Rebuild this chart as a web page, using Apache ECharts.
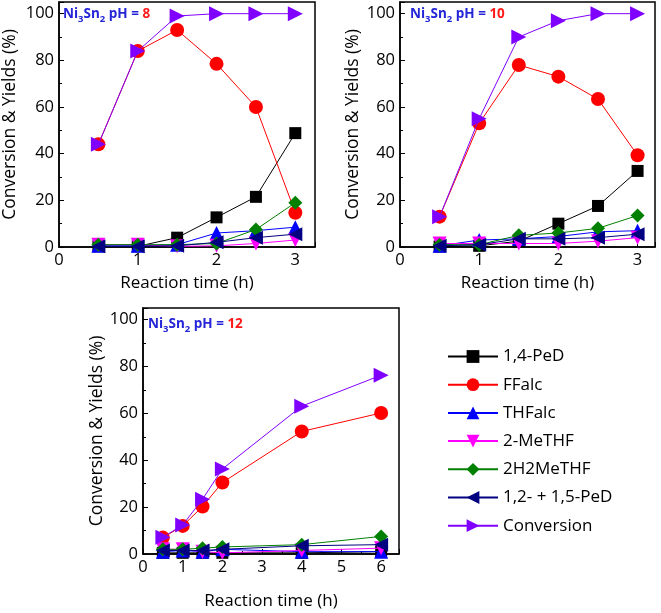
<!DOCTYPE html>
<html>
<head>
<meta charset="utf-8">
<script src="https://cdn.jsdelivr.net/npm/echarts@6/dist/echarts.min.js"></script>
<style>
html, body { margin: 0; padding: 0; background: #fff; }
#chart { width: 661px; height: 613px; }
</style>
</head>
<body>
<div id="chart"></div>
<script>
// reaction time (h)
var time_short = [0.5, 1, 1.5, 2, 2.5, 3];
var time_long = [0.5, 1, 1.5, 2, 4, 6];
var series_names = ['1,4-PeD', 'FFalc', 'THFalc', '2-MeTHF', '2H2MeTHF', '1,2- + 1,5-PeD', 'Conversion'];
var y_ticks = [0, 20, 40, 60, 80, 100];

// pH = 8
var ped14_ph8 = [0.3, 0.3, 4, 12.7, 21.5, 48.8];
var ffalc_ph8 = [44, 84, 93, 78.5, 60, 14.7];
var thfalc_ph8 = [0.5, 0.5, 1, 6, 7, 8.5];
var methf_ph8 = [1, 1, 0.3, 0.5, 1.5, 3];
var h2methf_ph8 = [1, 1, 1, 1.5, 7.5, 19];
var ped1215_ph8 = [0.3, 0.3, 0.5, 2, 4, 5.5];
var conv_ph8 = [44, 84, 99, 100, 100, 100];

// pH = 10
var ped14_ph10 = [0.2, 0.5, 2.5, 10, 17.6, 32.6];
var ffalc_ph10 = [13, 53, 78, 73, 63.4, 39.3];
var thfalc_ph10 = [0.5, 3, 3.5, 4.5, 6.5, 7];
var methf_ph10 = [1.5, 1.5, 1.5, 1.5, 2.5, 4];
var h2methf_ph10 = [1, 1, 5, 6, 8, 13.5];
var ped1215_ph10 = [0.5, 1, 3.5, 3.5, 4, 5.5];
var conv_ph10 = [13, 55, 90, 97, 100, 100];

// pH = 12
var ped14_ph12 = [0.5, 0.5, 0.5, 0.5, 0.5, 1];
var ffalc_ph12 = [7, 12, 20.3, 30.5, 52.3, 60.2];
var thfalc_ph12 = [1, 1.5, 1, 2, 1, 1];
var methf_ph12 = [2, 2, 1, 0.5, 1.5, 2.5];
var h2methf_ph12 = [2, 2, 2.5, 3, 4, 7.5];
var ped1215_ph12 = [1.5, 1.5, 1.5, 2, 3.5, 4];
var conv_ph12 = [7.1, 12.4, 23.4, 36.3, 63.1, 76.3];

var panels = [
    {x: time_short, ys: [ped14_ph8, ffalc_ph8, thfalc_ph8, methf_ph8, h2methf_ph8, ped1215_ph8, conv_ph8], ph: '8',
     grid: {left: 58, top: 2, width: 257, height: 245}, xmax: 3.25, nameGapX: 28, nameGapY: 40, tag: [63, 17]},
    {x: time_short, ys: [ped14_ph10, ffalc_ph10, thfalc_ph10, methf_ph10, h2methf_ph10, ped1215_ph10, conv_ph10], ph: '10',
     grid: {left: 400, top: 2, width: 255, height: 245}, xmax: 3.22, nameGapX: 28, nameGapY: 38, tag: [410, 17]},
    {x: time_long, ys: [ped14_ph12, ffalc_ph12, thfalc_ph12, methf_ph12, h2methf_ph12, ped1215_ph12, conv_ph12], ph: '12',
     grid: {left: 143, top: 308, width: 256, height: 246}, xmax: 6.45, nameGapX: 39, nameGapY: 36, tag: [148, 327]}
];

var colors = ['#000000', '#ff0000', '#0000ff', '#ff00ff', '#008000', '#000080', '#8000ff'];
var symbols = ['rect', 'circle', 'triangle', 'triangle', 'diamond', 'triangle', 'triangle'];
var rotations = [0, 0, 0, 180, 0, 90, -90];
var sizes = [12, 14, 14, 14, 14, 14, 15];
var font = 'Open Sans';

var grids = [], xAxes = [], yAxes = [], series = [], graphics = [];
panels.forEach(function (p, i) {
    grids.push(Object.assign({show: true, borderColor: '#000', borderWidth: 1.5}, p.grid));
    xAxes.push({
        gridIndex: i, type: 'value', min: 0, max: p.xmax, interval: 1,
        name: 'Reaction time (h)', nameLocation: 'middle', nameGap: p.nameGapX,
        nameTextStyle: {fontSize: 17, fontFamily: font, color: '#000'},
        axisLine: {onZero: false, lineStyle: {color: '#000', width: 1.5}},
        axisTick: {inside: true, length: 5, lineStyle: {color: '#000'}},
        minorTick: {show: true, splitNumber: 2, length: 3, lineStyle: {color: '#000'}},
        axisLabel: {fontSize: 16.5, fontFamily: font, color: '#000', margin: 5,
            formatter: function (v) { return v % 1 === 0 ? String(v) : ''; }},
        splitLine: {show: false}
    });
    yAxes.push({
        gridIndex: i, type: 'value', min: 0, max: 105, interval: 20,
        name: 'Conversion & Yields (%)', nameLocation: 'middle', nameGap: p.nameGapY,
        nameTextStyle: {fontSize: 17.5, fontFamily: font, color: '#000'},
        axisLine: {lineStyle: {color: '#000', width: 1.5}},
        axisTick: {inside: true, length: 5, lineStyle: {color: '#000'}},
        minorTick: {show: true, splitNumber: 2, length: 3, lineStyle: {color: '#000'}},
        axisLabel: {fontSize: 16.5, fontFamily: font, color: '#000', margin: 5,
            formatter: function (v) { return y_ticks.indexOf(v) >= 0 ? String(v) : ''; }},
        splitLine: {show: false}
    });
    p.ys.forEach(function (ys, k) {
        series.push({
            name: series_names[k], type: 'line', xAxisIndex: i, yAxisIndex: i,
            data: p.x.map(function (t, j) { return [t, ys[j]]; }),
            symbol: symbols[k], symbolSize: sizes[k], symbolRotate: rotations[k],
            lineStyle: {color: colors[k], width: 1},
            itemStyle: {color: colors[k]},
            z: 2 + k, animation: false
        });
    });
    graphics.push({
        type: 'text', left: p.tag[0], top: p.tag[1] - 10,
        style: {
            text: '{a|Ni}{s|3}{a|Sn}{s|2}{a| pH = }{r|' + p.ph + '}',
            rich: {
                a: {fontSize: 13.5, fontWeight: 'bold', fontFamily: font, fill: '#2424d8', lineHeight: 20},
                s: {fontSize: 9.5, fontWeight: 'bold', fontFamily: font, fill: '#2424d8', lineHeight: 9, verticalAlign: 'bottom'},
                r: {fontSize: 13.5, fontWeight: 'bold', fontFamily: font, fill: '#ff1a1a', lineHeight: 20}
            }
        },
        z: 100
    });
});

echarts.init(document.getElementById('chart')).setOption({
    animation: false,
    grid: grids,
    xAxis: xAxes,
    yAxis: yAxes,
    series: series,
    graphic: graphics,
    legend: {
        data: series_names, orient: 'vertical', left: 442, top: 343,
        itemWidth: 50, itemHeight: 16, itemGap: 11.2,
        textStyle: {fontSize: 17, fontFamily: font, color: '#000'}
    }
});
</script>
</body>
</html>
